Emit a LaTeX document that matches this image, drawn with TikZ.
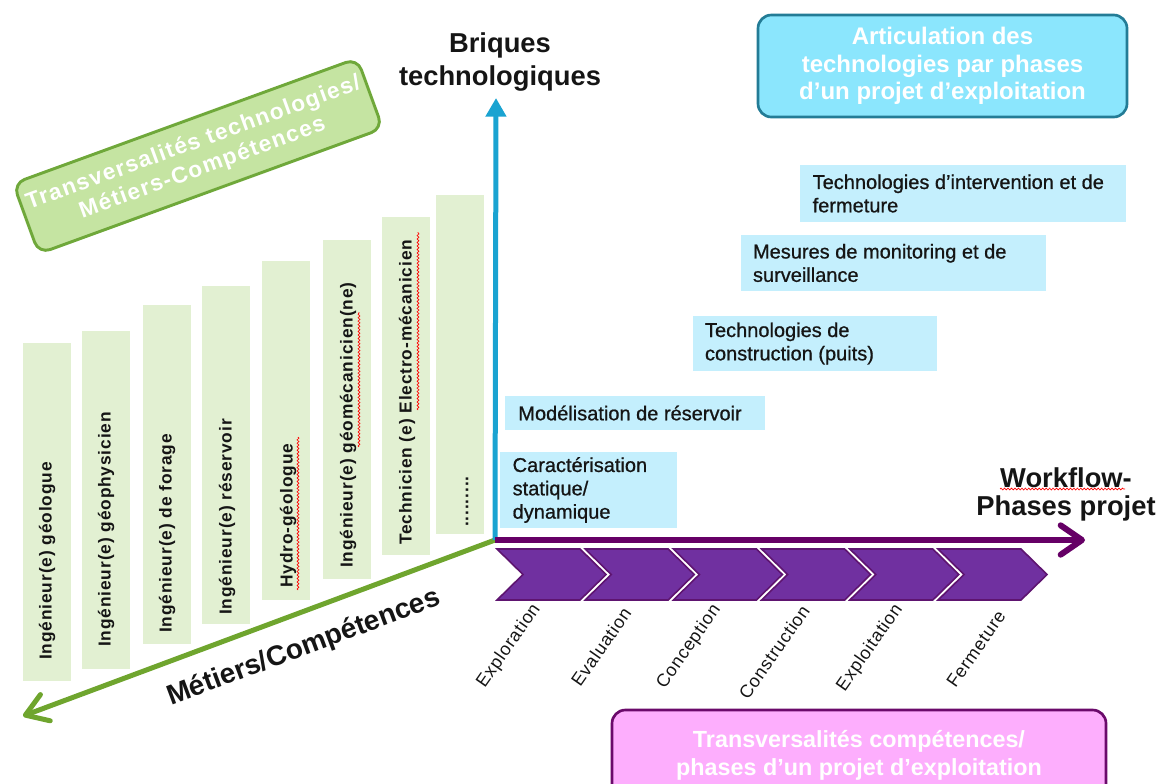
\documentclass[tikz,border=0pt]{standalone}
\usepackage{fontspec}
\setmainfont{Liberation Sans}
\newfontfamily\colfont{Liberation Sans}[LetterSpace=5]
\newfontfamily\phfont{Liberation Sans}[LetterSpace=4]
\newfontfamily\gfont{Liberation Sans}[LetterSpace=6]
\newfontfamily\techfont{Liberation Sans}[FakeBold=0.8]
\usetikzlibrary{arrows.meta,decorations.pathmorphing}
\definecolor{colfill}{HTML}{E2F0D2}
\definecolor{gbox}{HTML}{C5E4A2}
\definecolor{gboxline}{HTML}{6FA83A}
\definecolor{gaxis}{HTML}{6FA52E}
\definecolor{baxis}{HTML}{1AA3D1}
\definecolor{techfill}{HTML}{C4EFFD}
\definecolor{hdrfill}{HTML}{8BE6FD}
\definecolor{hdrline}{HTML}{237C96}
\definecolor{chev}{HTML}{7030A0}
\definecolor{chevline}{HTML}{5E1470}
\definecolor{paxis}{HTML}{660066}
\definecolor{pinkfill}{HTML}{FDAEFD}
\definecolor{pinkline}{HTML}{6B0A6B}
\definecolor{txt}{HTML}{151515}
\begin{document}
\begin{tikzpicture}[x=0.75pt,y=-0.75pt,
  colbox/.style={fill=colfill, inner sep=0, minimum width=36pt, minimum height=254pt},
  coltext/.style={rotate=90, anchor=west, inner sep=0, text=txt, font=\colfont\bfseries\fontsize{13}{15}\selectfont},
  techbox/.style={fill=techfill, inner sep=0},
  techtext/.style={anchor=west, inner sep=0, align=left, text=txt, font=\techfont\fontsize{15}{17.5}\selectfont},
  axislabel/.style={inner sep=0, align=center, text=txt, font=\bfseries\fontsize{20.5}{25}\selectfont},
  phaselabel/.style={rotate=55, inner sep=0, text=txt, font=\phfont\fontsize{13.5}{15}\selectfont},
  chevron/.style={fill=chev, draw=chevline, line width=1.2pt},
  squig/.style={draw=red, line width=0.5pt, decorate, decoration={snake, amplitude=0.7pt, segment length=2.6pt}},
  headbox/.style={draw=hdrline, line width=2pt, fill=hdrfill, rounded corners=10pt, text=white, align=center,
    font=\bfseries\fontsize{18}{20.6}\selectfont, minimum width=276.75pt, minimum height=76.5pt, inner sep=0},
  greenbox/.style={draw=gboxline, line width=2.2pt, fill=gbox, rounded corners=9pt, text=white, align=center,
    font=\gfont\bfseries\fontsize{17}{20}\selectfont, minimum width=274.5pt, minimum height=56pt, inner sep=0},
  pinkbox/.style={draw=pinkline, line width=2pt, fill=pinkfill, rounded corners=10pt, minimum width=370.5pt, minimum height=75pt, inner sep=0},
  pinktext/.style={text=white, align=center, inner sep=0, font=\bfseries\fontsize{17.5}{21}\selectfont}
]
\useasboundingbox (0,0) rectangle (1162,783);
\clip (0,0) rectangle (1162,783);

% ---- role columns
\node[colbox] (c1) at (47,512) {};
\node[colbox] (c2) at (106,500) {};
\node[colbox] (c3) at (167,474.5) {};
\node[colbox] (c4) at (226,455) {};
\node[colbox] (c5) at (286,430.5) {};
\node[colbox] (c6) at (346.5,409.5) {};
\node[colbox] (c7) at (406,386) {};
\node[colbox] (c8) at (460,364.5) {};
\node[coltext] (ct1) at (47,660) {Ingénieur(e) géologue};
\node[coltext] (ct2) at (106,647) {Ingénieur(e) géophysicien};
\node[coltext] (ct3) at (167,633) {Ingénieur(e) de forage};
\node[coltext] (ct4) at (227,615) {Ingénieur(e) réservoir};
\node[coltext] (ct5) at (288,588) {Hydro-géologue};
\node[coltext] (ct6) at (348,568) {Ingénieur(e) géomécanicien(ne)};
\node[coltext] (ct7) at (407,545) {Technicien (e) Electro-mécanicien};
\node[coltext] (ct8) at (467,527) {.........};
\draw[squig] (298,590) -- (298,437);
\draw[squig] (359,447) -- (359,312);
\draw[squig] (418,410) -- (418,232);

% ---- green transversal box
\node[greenbox, rotate=20] (gb) at (198,156) {Transversalités technologies/\\Métiers-Compétences};

% ---- header box
\node[headbox] (hdr) at (942.5,66) {Articulation des\\technologies par phases\\d’un projet d’exploitation};

% ---- technology boxes
\node[techbox, minimum width=132.75pt, minimum height=57pt] (b1) at (588.5,490) {};
\node[techbox, minimum width=195pt, minimum height=25.5pt] (b2) at (635,413) {};
\node[techbox, minimum width=183pt, minimum height=41.25pt] (b3) at (815,343.5) {};
\node[techbox, minimum width=228.75pt, minimum height=42pt] (b4) at (893.5,263) {};
\node[techbox, minimum width=244.5pt, minimum height=42.75pt] (b5) at (963,193.5) {};
\node[techtext] (t1) at ([xshift=9.5pt]b1.west) {Caractérisation\\statique/\\dynamique};
\node[techtext] (t2) at ([xshift=10pt]b2.west) {Modélisation de réservoir};
\node[techtext] (t3) at ([xshift=9pt]b3.west) {Technologies de\\construction (puits)};
\node[techtext] (t4) at ([xshift=9pt]b4.west) {Mesures de monitoring et de\\surveillance};
\node[techtext] (t5) at ([xshift=9.5pt]b5.west) {Technologies d’intervention et de\\fermeture};

% ---- axes
\coordinate (O) at (495,540);
\coordinate (btop) at (496,98);
\coordinate (pend) at (1085,540);
\coordinate (gend) at (23,716);
\draw[gaxis, line width=3.75pt, -{Straight Barb[length=16pt,width=21pt,round]}] (O) -- (gend);
\draw[baxis, line width=3.75pt, -{Triangle[length=14pt,width=15pt]}] (O) -- (btop);
\draw[paxis, line width=4.5pt, -{Straight Barb[length=16pt,width=22pt,round]}] (O) -- (pend);

% ---- axis labels
\node[axislabel, font=\bfseries\fontsize{20.5}{24.75}\selectfont] (briq) at (500,61.5) {Briques\\technologiques};
\node[axislabel, font=\bfseries\fontsize{20.5}{21}\selectfont] (wf) at (1066,494) {Workflow-\\Phases projet};
\draw[squig] (1000,489) -- (1125,489);
\node[axislabel, rotate=20.5, font=\bfseries\fontsize{21}{25}\selectfont] (met) at (304,648) {Métiers/Compétences};

% ---- phase chevrons
\foreach \k in {0,...,5} {
  \pgfmathsetmacro\L{497+88.2*\k}
  \filldraw[chevron] (\L,549) -- ++(83,0) -- ++(26,25.5) -- ++(-26,25.5) -- ++(-83,0) -- ++(26,-25.5) -- cycle;
}
\node[phaselabel] (p1) at (509,646) {Exploration};
\node[phaselabel] (p2) at (601,647) {Evaluation};
\node[phaselabel] (p3) at (689,647) {Conception};
\node[phaselabel] (p4) at (774,652) {Construction};
\node[phaselabel] (p5) at (870,648) {Exploitation};
\node[phaselabel] (p6) at (976,649) {Fermeture};

% ---- pink box
\node[pinkbox] (pk) at (859,760) {};
\node[pinktext] (pkt) at (859,755) {Transversalités compétences/\\phases d’un projet d’exploitation};
\end{tikzpicture}
\end{document}
